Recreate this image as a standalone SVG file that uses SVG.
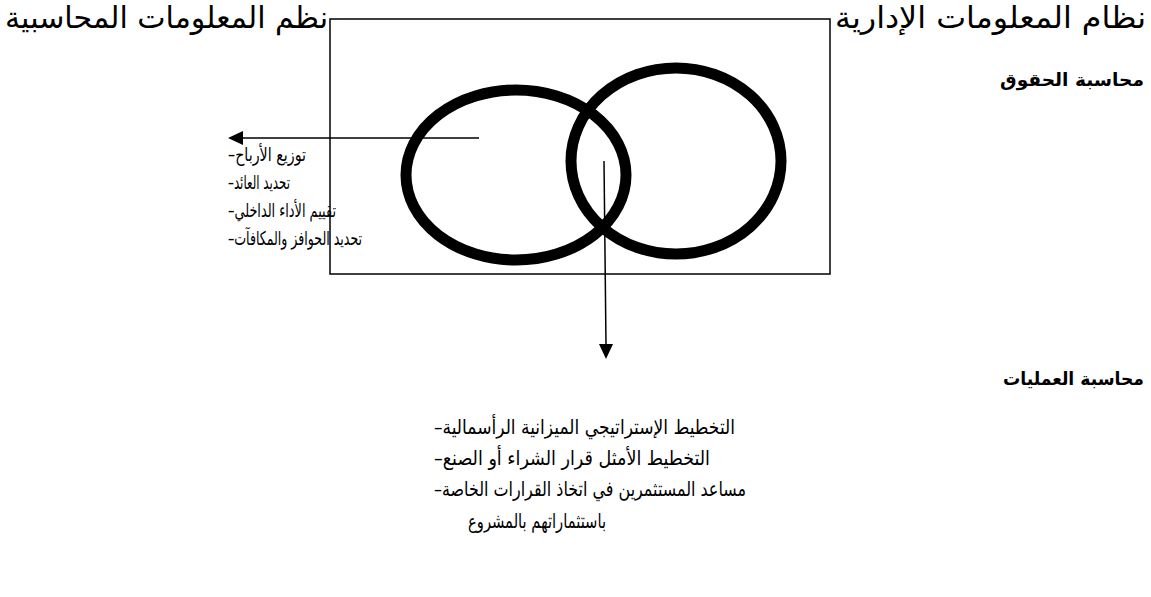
<svg xmlns="http://www.w3.org/2000/svg" width="1151" height="597" viewBox="0 0 1151 597">
<style>
.t{font-family:"DejaVu Sans","Noto Sans",sans-serif;fill:#000}
.h{font-size:30px}
.b{font-size:18px;font-weight:bold}
.l{font-size:19px}
.m{font-size:20px}
.ring{fill:none;stroke:#000;stroke-width:11}
.ln{stroke:#000;stroke-width:1.5;fill:none}
</style>
<rect width="1151" height="597" fill="#fff"/>
<g id="header-left"><text class="t h" x="5" y="28" textLength="323" lengthAdjust="spacingAndGlyphs">نظم المعلومات المحاسبية</text></g>
<g id="header-right"><text class="t h" x="835" y="28" textLength="311" lengthAdjust="spacingAndGlyphs">نظام المعلومات الإدارية</text></g>
<g id="frame"><rect x="330" y="19" width="500" height="255" class="ln" stroke-width="2"/></g>
<g id="circle-left"><ellipse class="ring" cx="516" cy="175" rx="110" ry="85"/></g>
<g id="circle-right"><ellipse class="ring" cx="676" cy="161" rx="105" ry="93"/></g>
<g id="label-rights"><text class="t b" x="1000" y="86" textLength="144" lengthAdjust="spacingAndGlyphs">محاسبة الحقوق</text></g>
<g id="label-ops"><text class="t b" x="1003" y="385" textLength="141" lengthAdjust="spacingAndGlyphs">محاسبة العمليات</text></g>
<g id="list-left">
<text class="t l" x="228" y="161" textLength="78" lengthAdjust="spacingAndGlyphs">–توزيع الأرباح</text>
<text class="t l" x="228" y="189" textLength="62" lengthAdjust="spacingAndGlyphs">–تحديد العائد</text>
<text class="t l" x="228" y="217" textLength="108" lengthAdjust="spacingAndGlyphs">–تقييم الأداء الداخلي</text>
<text class="t l" x="228" y="245" textLength="134" lengthAdjust="spacingAndGlyphs">–تحديد الحوافز والمكافآت</text>
</g>
<g id="list-bottom">
<text class="t m" x="434" y="434" textLength="301" lengthAdjust="spacingAndGlyphs">–التخطيط الإستراتيجي الميزانية الرأسمالية</text>
<text class="t m" x="434" y="465" textLength="276" lengthAdjust="spacingAndGlyphs">–التخطيط الأمثل قرار الشراء أو الصنع</text>
<text class="t m" x="434" y="496" textLength="312" lengthAdjust="spacingAndGlyphs">–مساعد المستثمرين في اتخاذ القرارات الخاصة</text>
<text class="t m" x="468" y="528" textLength="138" lengthAdjust="spacingAndGlyphs">باستثماراتهم بالمشروع</text>
</g>
<g id="connectors">
<line class="ln" x1="479" y1="138" x2="242" y2="138"/>
<polygon points="228,138 243,131 243,145" fill="#000"/>
<line class="ln" x1="604" y1="161" x2="606" y2="345"/>
<polygon points="606,359 599,344 613,344" fill="#000"/>
</g>
</svg>
